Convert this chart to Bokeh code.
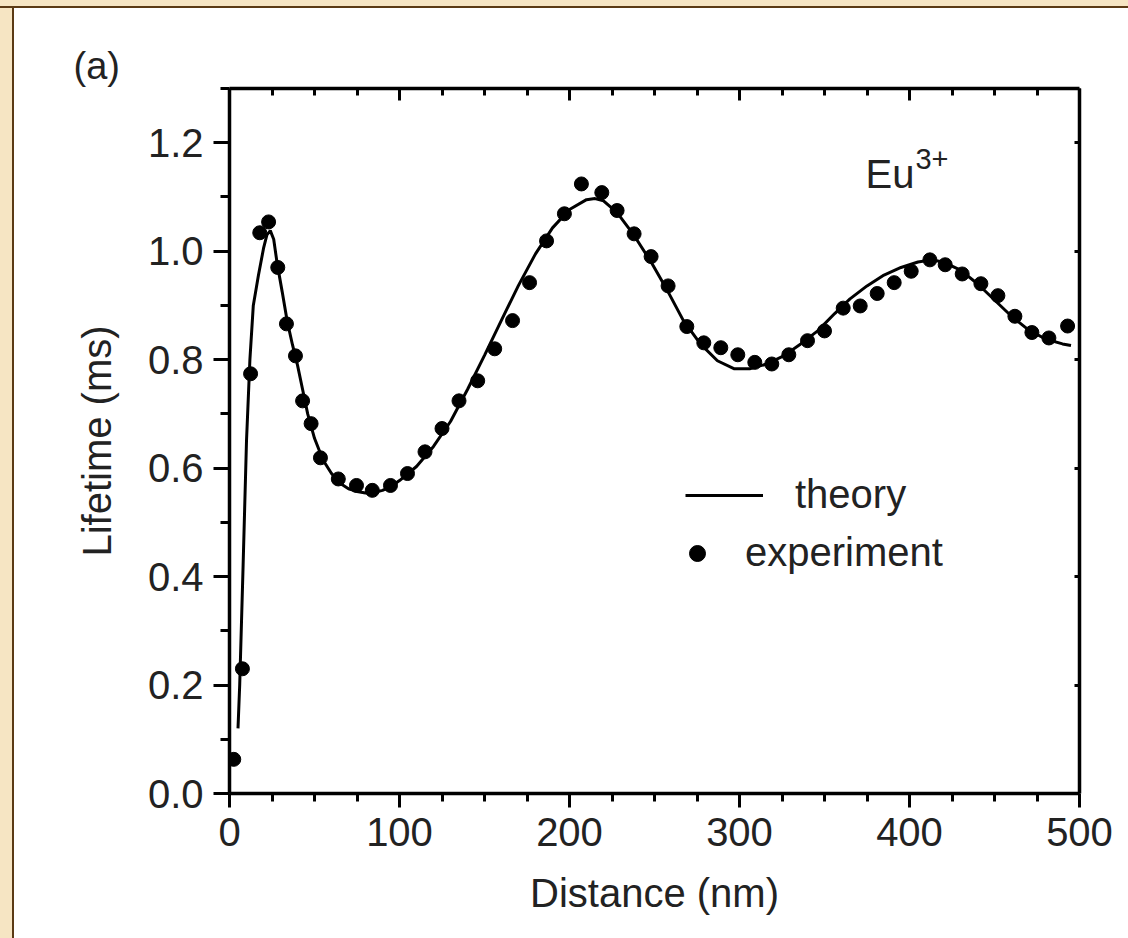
from bokeh.plotting import figure
from bokeh.models import (Range1d, FixedTicker, LinearAxis, Legend, LegendItem,
                          Label, CustomJSTickFormatter, PrintfTickFormatter)
from bokeh.embed import file_html
from bokeh.resources import INLINE

FONT = "Liberation Sans"
TXT = "#222222"

# ---- data ----
exp_distance = [2.5, 7.6, 12.4, 17.8, 23.0, 28.4, 33.5, 38.8, 43.0, 48.0, 53.5,
                64.0, 74.7, 84.0, 94.7, 104.7, 115.0, 125.0, 135.0, 146.0, 156.0,
                166.5, 176.5, 186.5, 197.0, 207.0, 219.0, 228.0, 238.0, 248.0,
                258.0, 269.0, 279.0, 289.0, 299.0, 309.0, 319.0, 329.0, 340.0,
                350.0, 361.0, 371.0, 381.0, 391.0, 401.0, 412.0, 421.0, 431.0,
                442.0, 452.0, 462.0, 472.0, 482.0, 493.0]
exp_lifetime = [0.063, 0.230, 0.774, 1.034, 1.054, 0.970, 0.866, 0.807, 0.724,
                0.682, 0.619, 0.580, 0.568, 0.559, 0.568, 0.590, 0.630, 0.673,
                0.724, 0.761, 0.820, 0.872, 0.942, 1.019, 1.069, 1.124, 1.108,
                1.075, 1.032, 0.990, 0.936, 0.861, 0.831, 0.822, 0.809, 0.795,
                0.792, 0.809, 0.835, 0.853, 0.895, 0.899, 0.922, 0.942, 0.963,
                0.984, 0.975, 0.958, 0.940, 0.918, 0.880, 0.850, 0.840, 0.862]

th_distance = [5, 6, 8, 10, 12, 14, 17, 20, 22, 24, 26, 28, 31, 34, 37, 40, 43,
               46, 50, 55, 60, 65, 70, 75, 80, 85, 90, 95, 100, 110, 120, 130,
               140, 150, 160, 170, 180, 190, 200, 210, 215, 220, 228, 238, 248,
               258, 267, 277, 287, 297, 306, 316, 326, 336, 346, 356, 365, 375,
               385, 395, 405, 413, 420, 430, 440, 450, 460, 470, 480, 490, 495]
th_lifetime = [0.12, 0.20, 0.42, 0.65, 0.80, 0.90, 0.955, 1.005, 1.03, 1.038,
               1.022, 0.978, 0.925, 0.870, 0.828, 0.790, 0.745, 0.700, 0.655,
               0.615, 0.590, 0.572, 0.562, 0.557, 0.554, 0.555, 0.559, 0.566,
               0.577, 0.603, 0.640, 0.686, 0.745, 0.808, 0.873, 0.937, 0.995,
               1.043, 1.077, 1.095, 1.097, 1.093, 1.071, 1.029, 0.980, 0.925,
               0.872, 0.829, 0.798, 0.783, 0.783, 0.792, 0.807, 0.829, 0.853,
               0.885, 0.912, 0.936, 0.956, 0.970, 0.980, 0.984, 0.980, 0.965,
               0.940, 0.910, 0.880, 0.855, 0.838, 0.829, 0.826]

x_major = [0, 100, 200, 300, 400, 500]
x_minor = [25, 50, 75, 125, 150, 175, 225, 250, 275, 325, 350, 375, 425, 450, 475]
y_major = [0.0, 0.2, 0.4, 0.6, 0.8, 1.0, 1.2]
y_minor = [0.1, 0.3, 0.5, 0.7, 0.9, 1.1, 1.3]

x_title = "Distance (nm)"
y_title = "Lifetime (ms)"
panel_tag = "(a)"
ion_main, ion_sup = "Eu", "3+"
legend_labels = ["theory", "experiment"]

# ---- figure ----
p = figure(width=1114, height=930, x_range=Range1d(0, 500), y_range=Range1d(0, 1.3),
           output_backend="svg", toolbar_location=None,
           min_border_left=215, min_border_right=49, min_border_top=80,
           min_border_bottom=145, background_fill_color="white",
           border_fill_color="white")
p.xgrid.visible = False
p.ygrid.visible = False
p.outline_line_color = None

p.title.text = panel_tag
p.title.align = "left"
p.title.offset = -156
p.title.standoff = 4
p.title.text_font = FONT
p.title.text_font_size = "38px"
p.title.text_font_style = "normal"
p.title.text_color = TXT

def style_axis(ax):
    ax.axis_line_width = 3.5
    ax.axis_line_color = "black"
    ax.major_tick_line_width = 3
    ax.minor_tick_line_width = 3
    ax.major_tick_line_color = "black"
    ax.minor_tick_line_color = "black"
    ax.major_label_text_font = FONT
    ax.major_label_text_font_size = "40px"
    ax.major_label_text_color = TXT
    ax.axis_label_text_font = FONT
    ax.axis_label_text_font_size = "40px"
    ax.axis_label_text_font_style = "normal"
    ax.axis_label_text_color = TXT

xa = p.xaxis[0]
xa.ticker = FixedTicker(ticks=x_major, minor_ticks=x_minor)
style_axis(xa)
xa.major_tick_out = 14
xa.major_tick_in = 0
xa.minor_tick_out = 8
xa.minor_tick_in = 0
xa.major_label_standoff = 10
xa.axis_label = x_title
xa.axis_label_standoff = 22

ya = p.yaxis[0]
ya.ticker = FixedTicker(ticks=y_major, minor_ticks=y_minor)
ya.formatter = PrintfTickFormatter(format="%.1f")
style_axis(ya)
ya.major_tick_out = 16
ya.major_tick_in = 0
ya.minor_tick_out = 9
ya.minor_tick_in = 0
ya.major_label_standoff = 10
ya.axis_label = y_title
ya.axis_label_standoff = 26

blank = CustomJSTickFormatter(code="return '';")
top = LinearAxis(ticker=FixedTicker(ticks=x_major, minor_ticks=x_minor), formatter=blank)
style_axis(top)
top.major_tick_in = 12
top.major_tick_out = 0
top.minor_tick_in = 7
top.minor_tick_out = 0
top.major_label_standoff = 0
top.major_label_text_font_size = "1px"
p.add_layout(top, "above")

right = LinearAxis(ticker=FixedTicker(ticks=y_major, minor_ticks=[]), formatter=blank)
style_axis(right)
right.major_tick_in = 5
right.major_tick_out = 0
right.minor_tick_in = 0
right.minor_tick_out = 0
right.major_label_standoff = 0
right.major_label_text_font_size = "1px"
p.add_layout(right, "right")

# ---- data renderers ----
r_th = p.line(th_distance, th_lifetime, line_color="black", line_width=3)
r_ex = p.scatter(exp_distance, exp_lifetime, size=14, marker="circle",
                 fill_color="black", line_color="black")

def make_legend(label, rend, loc, gw, standoff):
    lg = Legend(items=[LegendItem(label=label, renderers=[rend])], location=loc,
                glyph_width=gw, glyph_height=40, label_standoff=standoff,
                padding=0, margin=0, spacing=0, border_line_color=None,
                background_fill_alpha=0, label_text_font=FONT,
                label_text_font_size="40px", label_text_color=TXT)
    p.add_layout(lg)

make_legend(legend_labels[0], r_th, (456, 276), 78, 32)
make_legend(legend_labels[1], r_ex, (448, 218), 40, 28)

# ---- annotations ----
p.add_layout(Label(x=374.1, y=1.1429, text=ion_main, text_font=FONT,
                   text_font_size="40px", text_color=TXT, text_baseline="alphabetic"))
p.add_layout(Label(x=403.5, y=1.1705, text=ion_sup, text_font=FONT,
                   text_font_size="29px", text_color=TXT, text_baseline="alphabetic"))

css = """<style>
html { background: #ffffff !important; overflow: hidden !important; width: 1128px; }
body {
  margin: 0 !important;
  padding: 8px 0 0 14px !important;
  box-sizing: border-box !important;
  overflow: hidden !important;
  width: 1128px !important;
  background: #ffffff !important;
}
body::before {
  content: ""; position: fixed; left: 0; top: 0; width: 12px; height: 100%;
  background: #f6e5c3; border-right: 2px solid #5b3a14; z-index: 5;
}
body::after {
  content: ""; position: fixed; left: 0; top: 0; width: 100%; height: 6px;
  background: #f6e5c3; border-bottom: 2px solid #5b3a14; z-index: 6;
}
</style>
</head>"""

html = file_html(p, INLINE)
html = html.replace("</head>", css, 1)
open("out.html", "w").write(html)
